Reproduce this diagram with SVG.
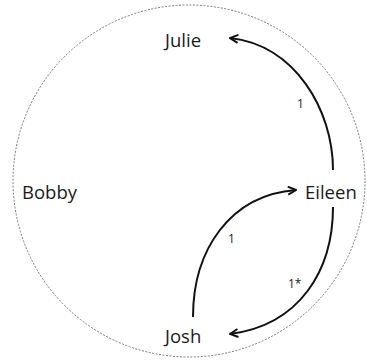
<svg xmlns="http://www.w3.org/2000/svg" width="367" height="364" viewBox="0 0 367 364">
<style>
.lbl{font-family:"Open Sans","Liberation Sans",sans-serif;font-size:18.5px;fill:#1a1a1a}
.sm{font-family:"Open Sans","Liberation Sans",sans-serif;font-size:12px;fill:#1a1a1a}
.edge{fill:none;stroke:#111;stroke-width:2}
</style>
<defs>
<marker id="ah" viewBox="0 0 10 10" refX="9" refY="5" markerWidth="5" markerHeight="5" orient="auto" markerUnits="strokeWidth">
<path d="M1,1 L9,5 L1,9" fill="none" stroke="#111" stroke-width="2"/>
</marker>
</defs>
<circle cx="189" cy="181" r="176" fill="#fff" stroke="#777" stroke-width="1" stroke-dasharray="2,1.5"/>
<g id="connectors">
<path class="edge" d="M333,170 C333,110 295,45 230,38" marker-end="url(#ah)"/>
<path class="edge" d="M193,317 C193,250 230,195 296,190" marker-end="url(#ah)"/>
<path class="edge" d="M333,207 C333,270 300,325 230,334" marker-end="url(#ah)"/>
<text class="sm" x="297" y="108">1</text>
<text class="sm" x="228" y="243">1</text>
<text class="sm" x="288" y="288">1*</text>
</g>
<g id="julie"><text class="lbl" x="165" y="47">Julie</text></g>
<g id="eileen"><text class="lbl" x="305" y="199">Eileen</text></g>
<g id="bobby"><text class="lbl" x="22" y="199">Bobby</text></g>
<g id="josh"><text class="lbl" x="165" y="343">Josh</text></g>
</svg>
